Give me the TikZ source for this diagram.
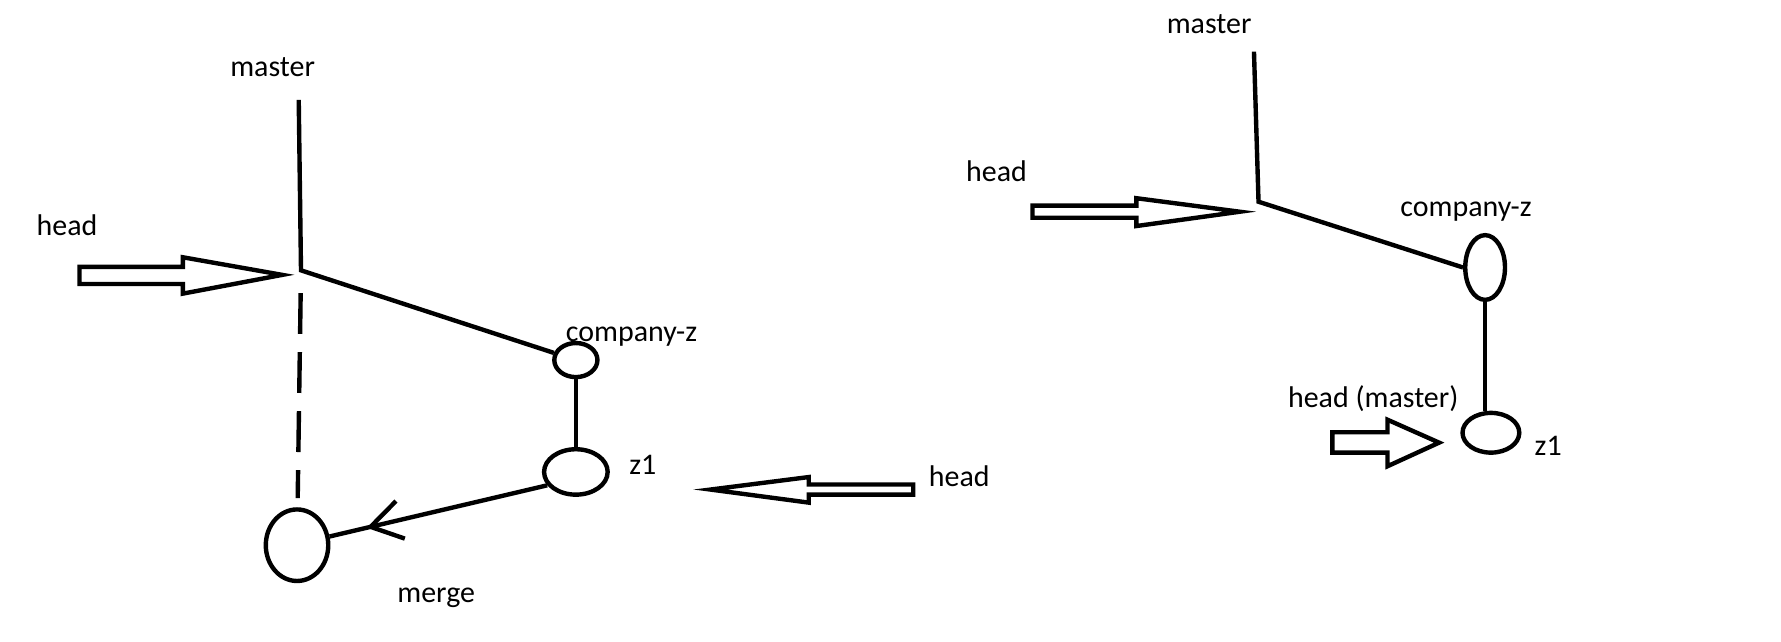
\documentclass[tikz,border=0pt]{standalone}
\usepackage{fontspec}
\setmainfont{Carlito}
\usetikzlibrary{arrows.meta,positioning,shapes.geometric,decorations.markings}

\tikzset{
  branch/.style={line width=2.2pt},
  commit/.style={draw,ellipse,line width=2.2pt,inner sep=0pt},
  lbl/.style={font=\fontsize{15}{18}\selectfont,inner sep=0pt,anchor=base},
  pointer/.style={draw,line width=2.2pt,line join=miter},
  arrowmid/.style={decoration={markings,
      mark=at position 0.83 with {\arrow{Straight Barb[length=0.54cm,width=0.68cm]}}},
    postaction={decorate}},
}

\begin{document}
\begin{tikzpicture}[x=0.02cm,y=-0.02cm]
  \useasboundingbox (0,0) rectangle (1568,565);
  % before the merge
  \coordinate (mtopL) at (263,88);
  \coordinate (forkL) at (265,238);
  \node[commit,minimum width=0.76cm,minimum height=0.6cm] (czL) at (507,317) {};
  \node[commit,minimum width=1.12cm,minimum height=0.8cm] (zoneL) at (507,415.5) {};
  \node[commit,minimum width=1.1cm,minimum height=1.26cm] (mergeL) at (261.5,480) {};
  \node[lbl] (masterL) at (240,67) {master};
  \node[lbl] (headL) at (59,207) {head};
  \node[lbl] (czlabelL) at (556,301) {company-z};
  \node[lbl] (zlabelL) at (566,418) {z1};
  \node[lbl] (mergelabel) at (384,530) {merge};
  \node[lbl] (headzL) at (844.5,428) {head};
  \draw[branch] (mtopL) -- (forkL) -- (czL);
  \draw[branch] (czL) -- (zoneL);
  \draw[branch,dash pattern=on 0.72cm off 0.32cm,shorten <=0.4cm,shorten >=0.16cm] (forkL) -- (mergeL);
  \draw[branch,arrowmid] (zoneL.205) -- (mergeL.15);
  \draw[pointer] (70,235) -- (161,235) -- (161,226.5) -- (248.5,242)
    -- (161,258.5) -- (161,250) -- (70,250) -- cycle;
  \draw[pointer] (625.5,431) -- (712,420) -- (712,426.5) -- (804,426.5)
    -- (804,435.5) -- (712,435.5) -- (712,442.5) -- cycle;

  % fast forward
  \coordinate (mtopR) at (1104,45.5);
  \coordinate (forkR) at (1108,177.6);
  \node[commit,minimum width=0.7cm,minimum height=1.14cm] (czR) at (1307.5,235.5) {};
  \node[commit,minimum width=1cm,minimum height=0.7cm] (zoneR) at (1312.6,381) {};
  \node[lbl] (masterR) at (1064.5,29.3) {master};
  \node[lbl] (headR) at (877.3,159.4) {head};
  \node[lbl] (czlabelR) at (1290.7,190.8) {company-z};
  \node[lbl] (hmlabelR) at (1209,358.6) {head (master)};
  \node[lbl] (zlabelR) at (1363,400.6) {z1};
  \draw[branch] (mtopR) -- (forkR) -- (czR.west);
  \draw[branch] (czR.south) -- (czR.south |- zoneR.north);
  \draw[pointer] (909,181) -- (1000.5,181) -- (1000.5,174.5) -- (1091.5,186.4)
    -- (1000.5,199) -- (1000.5,191.7) -- (909,191.7) -- cycle;
  \draw[pointer] (1173,380.5) -- (1221.5,380.5) -- (1221.5,369.5) -- (1267,389.7)
    -- (1221.5,410.5) -- (1221.5,398.5) -- (1173,398.5) -- cycle;
\end{tikzpicture}
\end{document}
